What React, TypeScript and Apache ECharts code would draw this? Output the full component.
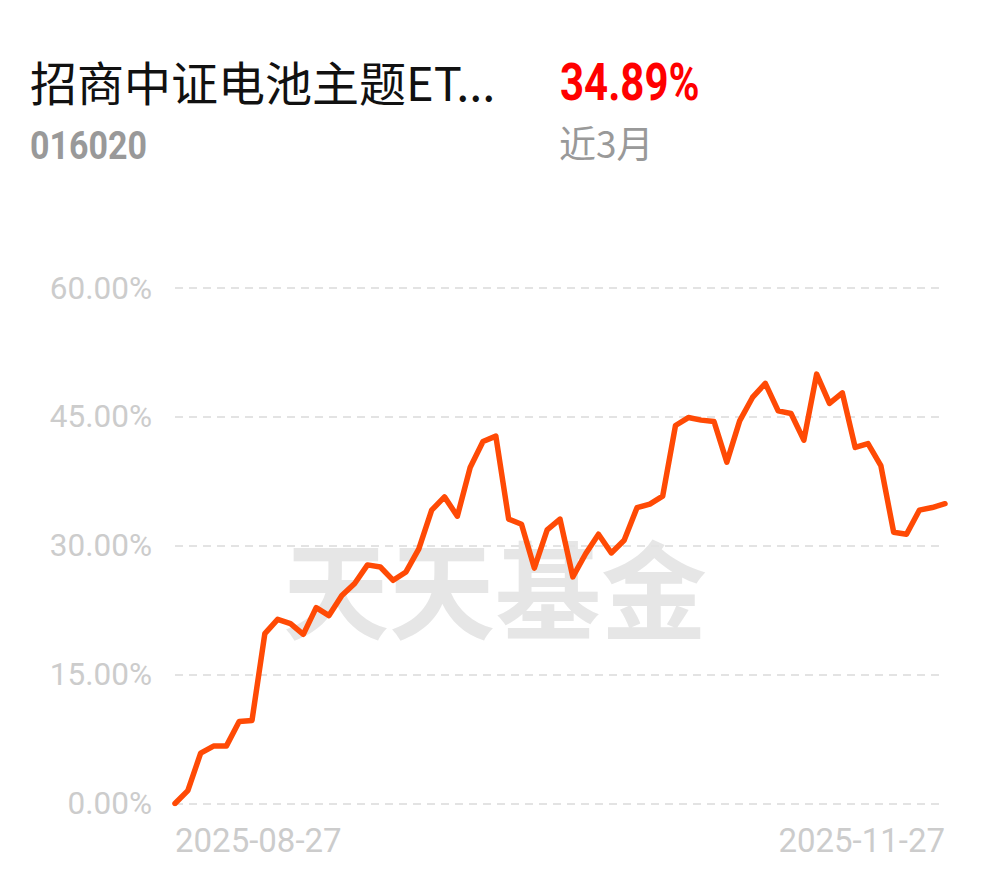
import React, { useEffect, useRef } from "react";
import * as echarts from "echarts";

const dates: string[] = [
  "2025-08-27", "2025-08-28", "2025-08-29",
  "2025-09-01", "2025-09-02", "2025-09-03", "2025-09-04", "2025-09-05",
  "2025-09-08", "2025-09-09", "2025-09-10", "2025-09-11", "2025-09-12",
  "2025-09-15", "2025-09-16", "2025-09-17", "2025-09-18", "2025-09-19",
  "2025-09-22", "2025-09-23", "2025-09-24", "2025-09-25", "2025-09-26",
  "2025-09-29", "2025-09-30",
  "2025-10-09", "2025-10-10",
  "2025-10-13", "2025-10-14", "2025-10-15", "2025-10-16", "2025-10-17",
  "2025-10-20", "2025-10-21", "2025-10-22", "2025-10-23", "2025-10-24",
  "2025-10-27", "2025-10-28", "2025-10-29", "2025-10-30", "2025-10-31",
  "2025-11-03", "2025-11-04", "2025-11-05", "2025-11-06", "2025-11-07",
  "2025-11-10", "2025-11-11", "2025-11-12", "2025-11-13", "2025-11-14",
  "2025-11-17", "2025-11-18", "2025-11-19", "2025-11-20", "2025-11-21",
  "2025-11-24", "2025-11-25", "2025-11-26", "2025-11-27",
];

const returns: number[] = [
  0, 1.5, 5.86, 6.68, 6.68, 9.55, 9.67, 19.77, 21.44, 20.94,
  19.69, 22.8, 21.87, 24.2, 25.6, 27.77, 27.53, 25.98, 26.95, 29.63,
  34.14, 35.69, 33.44, 39.1, 42.13, 42.76, 33.1, 32.5, 27.4, 31.85,
  33.1, 26.37, 29.07, 31.34, 29.16, 30.64, 34.43, 34.84, 35.77, 44.0,
  44.92, 44.62, 44.46, 39.73, 44.54, 47.26, 48.9, 45.7, 45.4, 42.29,
  49.98, 46.57, 47.8, 41.44, 41.9, 39.33, 31.57, 31.34, 34.14, 34.45,
  34.89,
];

const fundName = "招商中证电池主题ET...";
const fundCode = "016020";
const periodReturn = "34.89%";
const periodLabel = "近3月";
const watermark = "天天基金";

export default function App() {
  const ref = useRef<HTMLDivElement>(null);

  useEffect(() => {
    document.body.style.margin = "0";
    if (!ref.current) return;
    const chart = echarts.init(ref.current, null, { renderer: "svg" });
    const last = dates.length - 1;
    chart.setOption({
      animation: false,
      backgroundColor: "#ffffff",
      grid: { left: 175, right: 45, top: 288, bottom: 74.5, containLabel: false },
      xAxis: {
        type: "category",
        data: dates,
        boundaryGap: false,
        axisLine: { show: false },
        axisTick: { show: false },
        splitLine: { show: false },
        axisLabel: {
          interval: (i: number) => i === 0 || i === last,
          alignMinLabel: "left",
          alignMaxLabel: "right",
          color: "#cccccc",
          fontSize: 33,
          fontFamily: "Roboto",
          margin: 20,
        },
      },
      yAxis: {
        type: "value",
        min: 0,
        max: 60,
        interval: 15,
        axisLine: { show: false },
        axisTick: { show: false },
        axisLabel: {
          formatter: (v: number) => v.toFixed(2) + "%",
          color: "#cccccc",
          fontSize: 31.5,
          fontFamily: "Roboto",
          margin: 23,
        },
        splitLine: {
          lineStyle: { color: "#e3e3e3", width: 2, type: [8, 6] },
        },
      },
      graphic: [
        {
          type: "text",
          x: 30,
          y: 57,
          style: {
            text: fundName,
            fill: "#111111",
            font: "47px 'Noto Sans CJK SC'",
          },
        },
        {
          type: "text",
          x: 30,
          y: 126,
          scaleY: 1.15,
          style: {
            text: fundCode,
            fill: "#999999",
            font: "bold 34px Roboto",
          },
        },
        {
          type: "text",
          x: 560,
          y: 57,
          scaleY: 1.22,
          style: {
            text: periodReturn,
            fill: "#ff0000",
            font: "bold 42px Roboto",
          },
        },
        {
          type: "text",
          x: 559,
          y: 123,
          style: {
            text: periodLabel,
            fill: "#999999",
            font: "37px 'Noto Sans CJK SC'",
          },
        },
        {
          type: "text",
          x: 495,
          y: 585,
          z: -10,
          style: {
            text: watermark,
            fill: "#e6e6e6",
            font: "bold 106px 'Noto Sans CJK SC'",
            align: "center",
            verticalAlign: "middle",
          },
        },
      ],
      series: [
        {
          type: "line",
          data: returns,
          showSymbol: false,
          symbol: "none",
          lineStyle: { color: "#ff4a05", width: 5.5, cap: "round", join: "round" },
          z: 5,
        },
      ],
    });
    return () => chart.dispose();
  }, []);

  return <div ref={ref} style={{ width: 990, height: 878 }} />;
}
